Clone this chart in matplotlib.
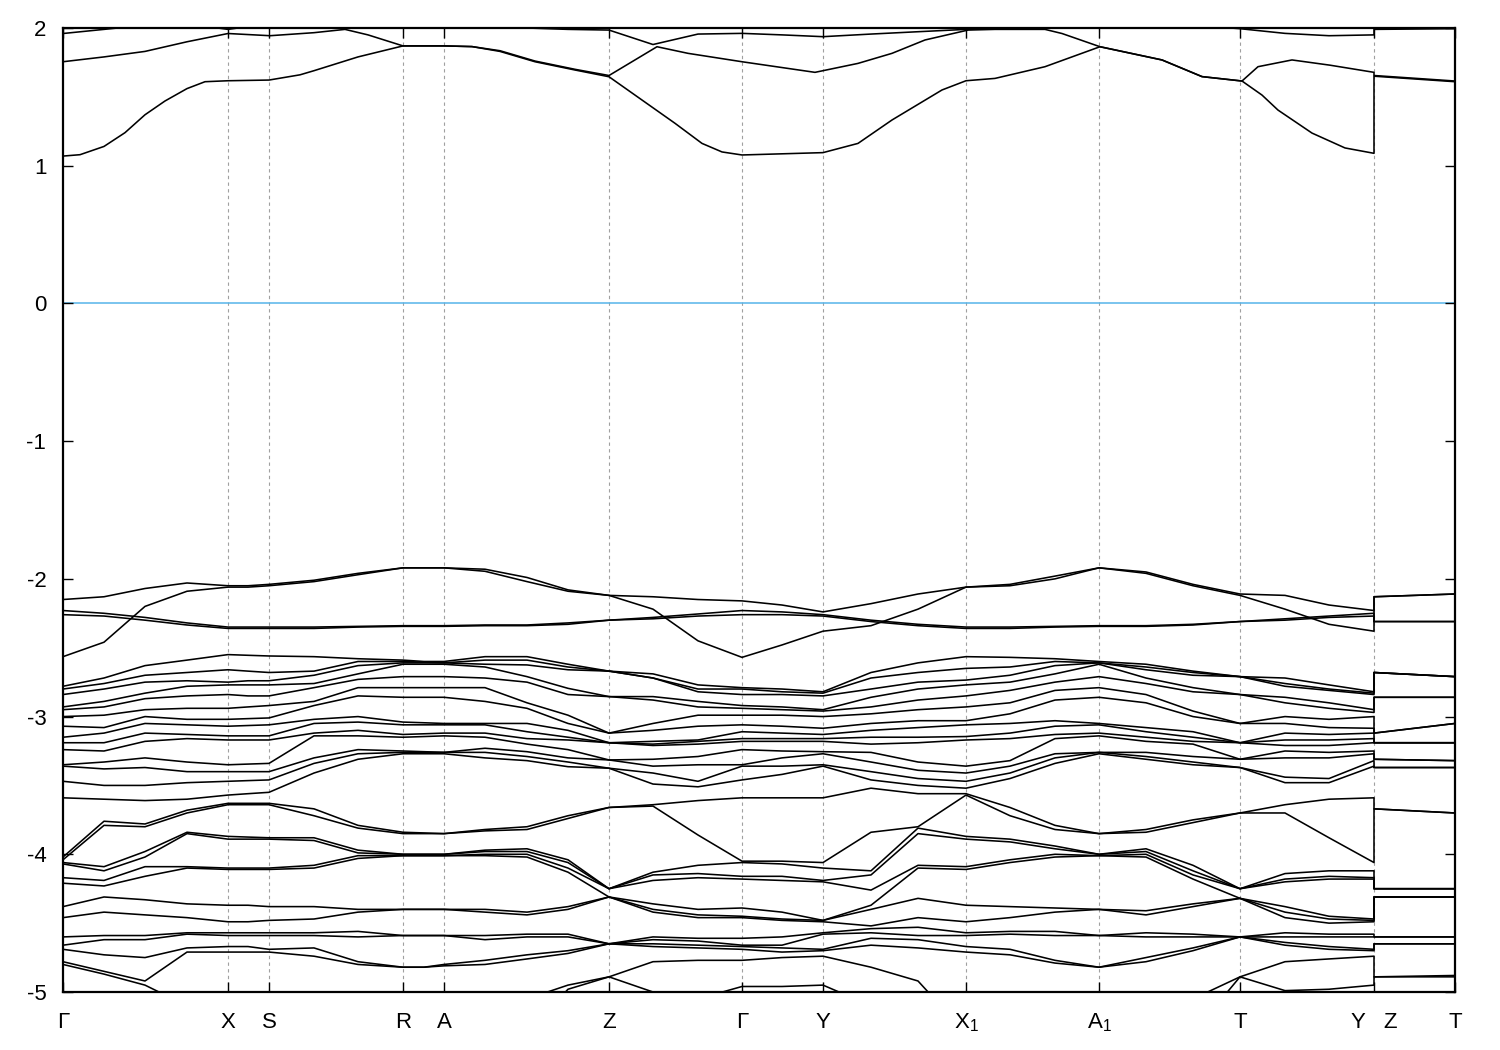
import matplotlib
matplotlib.use("Agg")
import matplotlib.pyplot as plt
import numpy as np

plt.rcParams['font.family'] = ['Liberation Sans', 'DejaVu Sans']
plt.rcParams['mathtext.fontset'] = 'custom'
plt.rcParams['mathtext.rm'] = 'Liberation Sans'
plt.rcParams['axes.unicode_minus'] = False

# k-path sample positions (Y and Z share the same position: path break)
kpath = [0, 41, 82, 124, 165, 185, 206, 251, 295, 340, 361, 381, 422, 464, 505,
         546, 590, 635, 679, 719, 760, 808, 855, 903, 947, 992, 1036, 1083, 1130,
         1177, 1222, 1266, 1311, 1311, 1392]

sym_k = [0, 165, 206, 340, 381, 546, 679, 760, 903, 1036, 1177, 1311, 1392]
sym_labels = ["Γ", "X", "S", "R", "A", "Z", "Γ", "Y", "X$_1$", "A$_1$", "T", "Y   Z", "T"]

# two lowest conduction bands, sampled on their own k points
cb1_k = [0, 17, 41, 62, 82, 102, 124, 142, 165, 206, 237, 251, 295, 340, 381, 409, 437, 472, 512,
         546, 579, 612, 639, 659, 679, 760, 795, 829, 879, 903, 932, 982, 1037, 1099, 1139, 1179,
         1199, 1215, 1249, 1282, 1311, 1311, 1392]
cb1_e = [1.07, 1.08, 1.14, 1.24, 1.37, 1.47, 1.56, 1.61, 1.617, 1.622, 1.66, 1.69, 1.79, 1.87, 1.87,
         1.865, 1.83, 1.755, 1.695, 1.646, 1.477, 1.308, 1.162, 1.10, 1.078, 1.095, 1.162, 1.332, 1.55,
         1.617, 1.634, 1.719, 1.864, 1.768, 1.647, 1.615, 1.513, 1.404, 1.237, 1.129, 1.09, 1.65, 1.61]
cb2_k = [0, 41, 82, 124, 165, 207, 251, 282, 305, 340, 381, 409, 437, 472, 512, 546, 594, 625,
         679, 752, 795, 829, 862, 905, 932, 982, 999, 1037, 1099, 1139, 1179, 1195, 1229, 1267,
         1311, 1311, 1392]
cb2_e = [1.755, 1.79, 1.83, 1.90, 1.96, 1.944, 1.966, 1.99, 1.95, 1.87, 1.87, 1.865, 1.835, 1.76,
         1.70, 1.655, 1.864, 1.816, 1.755, 1.678, 1.743, 1.816, 1.913, 1.985, 1.99, 1.99, 1.96,
         1.864, 1.768, 1.647, 1.615, 1.719, 1.768, 1.73, 1.678, 1.655, 1.615]
# third conduction band, on the common k path
cb3 = [1.96, 1.99, 2.02, 2.03, 1.99, 2.01, 2.03, 2.03, 2.03, 2.01, 2.01, 2.01, 2.01, 2.0, 1.99,
       1.985, 1.88, 1.956, 1.961, 1.95, 1.937, 1.956, 1.973, 1.99, 2.0, 2.01, 2.03, 2.03, 2.02,
       1.995, 1.961, 1.944, 1.95, 1.99, 1.995]

# top valence bands (one list per band)
vb_a = [-2.15, -2.13, -2.07, -2.03, -2.05, -2.05, -2.04, -2.01, -1.96, -1.92, -1.92, -1.92, -1.93, -1.99, -2.08,
        -2.12, -2.13, -2.15, -2.16, -2.19, -2.24, -2.18, -2.11, -2.06, -2.04, -1.98, -1.92, -1.95, -2.04,
        -2.11, -2.12, -2.19, -2.23, -2.13, -2.11]
vb_b = [-2.565, -2.46, -2.20, -2.09, -2.06, -2.06, -2.05, -2.02, -1.97, -1.92, -1.92, -1.92, -1.945, -2.02, -2.09,
        -2.12, -2.22, -2.45, -2.57, -2.48, -2.38, -2.34, -2.22, -2.06, -2.05, -2.00, -1.92, -1.96, -2.05,
        -2.12, -2.22, -2.33, -2.38, -2.13, -2.11]
vb_c = [-2.23, -2.25, -2.28, -2.32, -2.35, -2.35, -2.35, -2.35, -2.345, -2.34, -2.34, -2.34, -2.335, -2.335, -2.32,
        -2.30, -2.28, -2.255, -2.23, -2.24, -2.26, -2.30, -2.33, -2.35, -2.35, -2.345, -2.34, -2.34, -2.33,
        -2.31, -2.29, -2.27, -2.25, -2.31, -2.31]
vb_d = [-2.26, -2.27, -2.30, -2.335, -2.36, -2.36, -2.36, -2.36, -2.35, -2.345, -2.345, -2.345, -2.34, -2.34, -2.33,
        -2.30, -2.29, -2.27, -2.26, -2.26, -2.27, -2.31, -2.34, -2.36, -2.36, -2.35, -2.345, -2.345, -2.335,
        -2.31, -2.30, -2.28, -2.27, -2.31, -2.31]

# middle valence manifold: levels at each k sample
mid_levels = [
    [-2.78, -2.80, -2.84, -2.93, -2.95, -3.00, -3.07, -3.15, -3.19, -3.24, -3.35, -3.36, -3.47, -3.59],
    [-2.72, -2.76, -2.80, -2.89, -2.93, -2.99, -3.08, -3.12, -3.19, -3.25, -3.33, -3.38, -3.50, -3.60],
    [-2.63, -2.70, -2.75, -2.83, -2.87, -2.95, -3.00, -3.05, -3.12, -3.18, -3.30, -3.37, -3.50, -3.61],
    [-2.59, -2.68, -2.74, -2.78, -2.85, -2.94, -3.02, -3.06, -3.13, -3.16, -3.33, -3.40, -3.48, -3.60],
    [-2.55, -2.66, -2.75, -2.77, -2.84, -2.94, -3.02, -3.07, -3.14, -3.17, -3.35, -3.40, -3.47, -3.57],
    [-2.555, -2.67, -2.74, -2.77, -2.85, -2.93, -3.015, -3.065, -3.14, -3.17, -3.345, -3.40, -3.465, -3.56],
    [-2.56, -2.68, -2.74, -2.77, -2.85, -2.92, -3.01, -3.06, -3.14, -3.17, -3.34, -3.40, -3.46, -3.55],
    [-2.565, -2.67, -2.70, -2.76, -2.79, -2.89, -2.92, -3.02, -3.05, -3.12, -3.14, -3.30, -3.34, -3.41],
    [-2.58, -2.60, -2.63, -2.69, -2.73, -2.79, -2.85, -3.00, -3.04, -3.10, -3.14, -3.24, -3.27, -3.31],
    [-2.59, -2.60, -2.61, -2.62, -2.71, -2.79, -2.86, -3.04, -3.06, -3.13, -3.15, -3.25, -3.26, -3.27],
    [-2.60, -2.605, -2.61, -2.62, -2.71, -2.79, -2.86, -3.045, -3.06, -3.125, -3.145, -3.255, -3.26, -3.27],
    [-2.60, -2.61, -2.61, -2.62, -2.71, -2.79, -2.86, -3.05, -3.06, -3.12, -3.14, -3.26, -3.26, -3.27],
    [-2.565, -2.59, -2.62, -2.64, -2.72, -2.79, -2.89, -3.05, -3.06, -3.12, -3.15, -3.23, -3.26, -3.30],
    [-2.565, -2.59, -2.625, -2.71, -2.75, -2.90, -2.94, -3.05, -3.11, -3.16, -3.20, -3.255, -3.29, -3.32],
    [-2.62, -2.64, -2.66, -2.795, -2.84, -2.99, -3.05, -3.10, -3.15, -3.17, -3.24, -3.30, -3.33, -3.364],
    [-2.67, -2.67, -2.67, -2.855, -2.855, -3.12, -3.12, -3.19, -3.19, -3.19, -3.315, -3.315, -3.375, -3.375],
    [-2.69, -2.72, -2.72, -2.855, -2.88, -3.05, -3.10, -3.18, -3.20, -3.21, -3.31, -3.36, -3.41, -3.49],
    [-2.77, -2.80, -2.82, -2.89, -2.93, -2.99, -3.07, -3.17, -3.18, -3.20, -3.29, -3.35, -3.47, -3.51],
    [-2.79, -2.80, -2.84, -2.92, -2.94, -2.99, -3.06, -3.11, -3.16, -3.18, -3.24, -3.35, -3.36, -3.46],
    [-2.80, -2.82, -2.84, -2.93, -2.95, -2.99, -3.07, -3.12, -3.16, -3.18, -3.25, -3.30, -3.36, -3.42],
    [-2.82, -2.83, -2.85, -2.95, -2.96, -3.00, -3.085, -3.13, -3.16, -3.18, -3.255, -3.27, -3.35, -3.36],
    [-2.68, -2.72, -2.80, -2.86, -2.93, -2.98, -3.05, -3.10, -3.15, -3.20, -3.26, -3.33, -3.40, -3.46],
    [-2.61, -2.68, -2.75, -2.80, -2.88, -2.95, -3.03, -3.08, -3.15, -3.19, -3.33, -3.39, -3.45, -3.50],
    [-2.565, -2.65, -2.735, -2.77, -2.85, -2.93, -3.03, -3.06, -3.145, -3.17, -3.36, -3.41, -3.47, -3.52],
    [-2.57, -2.64, -2.70, -2.75, -2.81, -2.90, -2.98, -3.05, -3.12, -3.16, -3.32, -3.36, -3.41, -3.45],
    [-2.58, -2.60, -2.63, -2.69, -2.75, -2.81, -2.88, -3.03, -3.07, -3.13, -3.16, -3.27, -3.30, -3.34],
    [-2.60, -2.61, -2.61, -2.62, -2.71, -2.79, -2.86, -3.05, -3.06, -3.12, -3.14, -3.26, -3.26, -3.27],
    [-2.62, -2.64, -2.66, -2.72, -2.76, -2.84, -2.90, -3.08, -3.11, -3.15, -3.18, -3.26, -3.29, -3.31],
    [-2.67, -2.68, -2.70, -2.79, -2.82, -2.96, -3.00, -3.11, -3.15, -3.18, -3.20, -3.29, -3.33, -3.35],
    [-2.71, -2.71, -2.71, -2.84, -2.84, -3.05, -3.05, -3.19, -3.19, -3.19, -3.31, -3.31, -3.37, -3.37],
    [-2.72, -2.76, -2.78, -2.86, -2.90, -3.00, -3.05, -3.12, -3.17, -3.21, -3.25, -3.30, -3.44, -3.48],
    [-2.77, -2.80, -2.81, -2.90, -2.94, -3.02, -3.08, -3.13, -3.17, -3.21, -3.26, -3.30, -3.45, -3.48],
    [-2.82, -2.83, -2.84, -2.95, -2.97, -3.00, -3.085, -3.12, -3.16, -3.19, -3.25, -3.27, -3.32, -3.36],
    [-2.68, -2.68, -2.68, -2.86, -2.86, -3.12, -3.12, -3.19, -3.19, -3.19, -3.31, -3.31, -3.37, -3.37],
    [-2.71, -2.71, -2.71, -2.86, -2.86, -3.05, -3.05, -3.19, -3.19, -3.19, -3.32, -3.32, -3.37, -3.37],
]

# pair of bands around -3.6 .. -4.0
hump_levels = [
    [-4.02, -4.04], [-3.76, -3.79], [-3.78, -3.80], [-3.68, -3.70], [-3.63, -3.64], [-3.63, -3.64],
    [-3.63, -3.64], [-3.67, -3.72], [-3.79, -3.81], [-3.84, -3.85], [-3.845, -3.85], [-3.85, -3.85],
    [-3.82, -3.83], [-3.80, -3.82], [-3.72, -3.74], [-3.66, -3.66], [-3.64, -3.65], [-3.61, -3.86],
    [-3.59, -4.05], [-3.59, -4.05], [-3.59, -4.06], [-3.52, -3.84], [-3.56, -3.80], [-3.56, -3.57],
    [-3.66, -3.72], [-3.79, -3.82], [-3.85, -3.85], [-3.82, -3.84], [-3.75, -3.77], [-3.70, -3.70],
    [-3.64, -3.70], [-3.60, -3.88], [-3.59, -4.06], [-3.67, -3.67], [-3.70, -3.70],
]

# lower valence manifold (values below -5 lie outside the window)
low_levels = [
    [-4.06, -4.07, -4.17, -4.21, -4.38, -4.46, -4.60, -4.66, -4.69, -4.78, -4.80, -5.3],
    [-4.09, -4.12, -4.19, -4.23, -4.31, -4.42, -4.59, -4.62, -4.73, -4.85, -4.87, -5.3],
    [-3.98, -4.02, -4.09, -4.16, -4.33, -4.44, -4.59, -4.62, -4.75, -4.92, -4.95, -5.3],
    [-3.84, -3.85, -4.09, -4.10, -4.36, -4.46, -4.57, -4.58, -4.68, -4.71, -5.1, -5.3],
    [-3.87, -3.89, -4.10, -4.11, -4.37, -4.49, -4.57, -4.59, -4.67, -4.71, -5.3, -5.3],
    [-3.875, -3.89, -4.10, -4.11, -4.37, -4.49, -4.57, -4.59, -4.67, -4.71, -5.3, -5.3],
    [-3.88, -3.89, -4.10, -4.11, -4.38, -4.48, -4.57, -4.59, -4.69, -4.71, -5.3, -5.3],
    [-3.88, -3.90, -4.08, -4.10, -4.38, -4.47, -4.57, -4.59, -4.68, -4.74, -5.3, -5.3],
    [-3.97, -3.99, -4.01, -4.03, -4.40, -4.42, -4.56, -4.60, -4.78, -4.80, -5.3, -5.3],
    [-4.00, -4.00, -4.01, -4.01, -4.40, -4.40, -4.59, -4.59, -4.82, -4.82, -5.3, -5.3],
    [-4.00, -4.00, -4.01, -4.01, -4.40, -4.40, -4.59, -4.59, -4.82, -4.82, -5.3, -5.3],
    [-4.00, -4.00, -4.01, -4.01, -4.40, -4.40, -4.59, -4.59, -4.80, -4.81, -5.3, -5.3],
    [-3.97, -3.98, -4.00, -4.01, -4.40, -4.42, -4.59, -4.62, -4.77, -4.80, -5.3, -5.3],
    [-3.96, -3.98, -4.00, -4.02, -4.42, -4.44, -4.58, -4.60, -4.73, -4.76, -5.05, -5.3],
    [-4.04, -4.06, -4.10, -4.13, -4.38, -4.40, -4.58, -4.60, -4.70, -4.72, -4.95, -4.98],
    [-4.25, -4.25, -4.25, -4.31, -4.31, -4.31, -4.65, -4.65, -4.65, -4.65, -4.89, -4.89],
    [-4.13, -4.15, -4.19, -4.36, -4.40, -4.42, -4.60, -4.62, -4.65, -4.67, -4.78, -5.0],
    [-4.08, -4.14, -4.17, -4.40, -4.44, -4.46, -4.61, -4.63, -4.66, -4.68, -4.77, -5.05],
    [-4.06, -4.16, -4.18, -4.39, -4.45, -4.46, -4.61, -4.66, -4.67, -4.69, -4.77, -4.96],
    [-4.07, -4.16, -4.19, -4.42, -4.47, -4.48, -4.60, -4.66, -4.68, -4.71, -4.75, -4.96],
    [-4.10, -4.19, -4.20, -4.48, -4.48, -4.49, -4.57, -4.58, -4.69, -4.70, -4.74, -4.95],
    [-4.12, -4.15, -4.26, -4.37, -4.40, -4.52, -4.54, -4.57, -4.61, -4.66, -4.82, -5.1],
    [-3.81, -3.85, -4.08, -4.10, -4.32, -4.46, -4.53, -4.59, -4.62, -4.68, -4.92, -5.3],
    [-3.87, -3.89, -4.09, -4.11, -4.37, -4.49, -4.57, -4.59, -4.67, -4.71, -5.3, -5.3],
    [-3.89, -3.91, -4.04, -4.06, -4.38, -4.46, -4.56, -4.58, -4.69, -4.73, -5.3, -5.3],
    [-3.94, -3.96, -4.00, -4.02, -4.39, -4.42, -4.56, -4.59, -4.77, -4.79, -5.3, -5.3],
    [-4.00, -4.00, -4.01, -4.01, -4.40, -4.40, -4.59, -4.59, -4.82, -4.82, -5.3, -5.3],
    [-3.96, -3.98, -4.00, -4.02, -4.41, -4.44, -4.57, -4.60, -4.75, -4.78, -5.3, -5.3],
    [-4.08, -4.12, -4.15, -4.18, -4.36, -4.38, -4.58, -4.60, -4.68, -4.70, -5.05, -5.3],
    [-4.25, -4.25, -4.25, -4.32, -4.32, -4.32, -4.60, -4.60, -4.60, -4.60, -4.89, -4.89],
    [-4.14, -4.18, -4.20, -4.38, -4.42, -4.46, -4.57, -4.60, -4.64, -4.66, -4.78, -4.99],
    [-4.12, -4.16, -4.18, -4.45, -4.47, -4.50, -4.58, -4.60, -4.67, -4.69, -4.76, -4.98],
    [-4.12, -4.17, -4.18, -4.47, -4.48, -4.49, -4.58, -4.60, -4.69, -4.70, -4.74, -4.95],
    [-4.25, -4.25, -4.25, -4.31, -4.31, -4.31, -4.60, -4.60, -4.65, -4.65, -4.89, -4.89],
    [-4.25, -4.25, -4.25, -4.31, -4.31, -4.31, -4.60, -4.60, -4.65, -4.65, -4.89, -4.88],
]


fig = plt.figure(figsize=(15, 10.5), dpi=100)
ax = fig.add_axes([63 / 1500, 58 / 1050, 1392 / 1500, 964 / 1050])

# dashed lines at the high-symmetry points
for k in sym_k[1:-1]:
    ax.axvline(k, color="#a0a0a0", lw=0.8, ls=(0, (3, 3)), zorder=0)

ax.axhline(0, color="#56b4e9", lw=1.1, zorder=1)

band_style = dict(color="black", lw=1.15, solid_joinstyle="round")
ax.plot(cb1_k, cb1_e, **band_style)
ax.plot(cb2_k, cb2_e, **band_style)
for band in [cb3, vb_a, vb_b, vb_c, vb_d]:
    ax.plot(kpath, band, **band_style)
for group in [mid_levels, hump_levels, low_levels]:
    for band in np.array(group).T:
        ax.plot(kpath, band, **band_style)

ax.set_xlim(0, 1392)
ax.set_ylim(-5, 2)
ax.set_xticks(sym_k)
ax.set_xticklabels(sym_labels)
ax.set_yticks(range(-5, 3))
ax.tick_params(axis="x", direction="in", length=7, width=1, top=True, pad=26, labelsize=16)
ax.tick_params(axis="y", direction="in", length=7, width=1, right=True, pad=12, labelsize=16)
for lbl in ax.get_xticklabels():
    lbl.set_verticalalignment("baseline")
for sp in ax.spines.values():
    sp.set_linewidth(1.6)

fig.savefig("out.png", dpi=100)
